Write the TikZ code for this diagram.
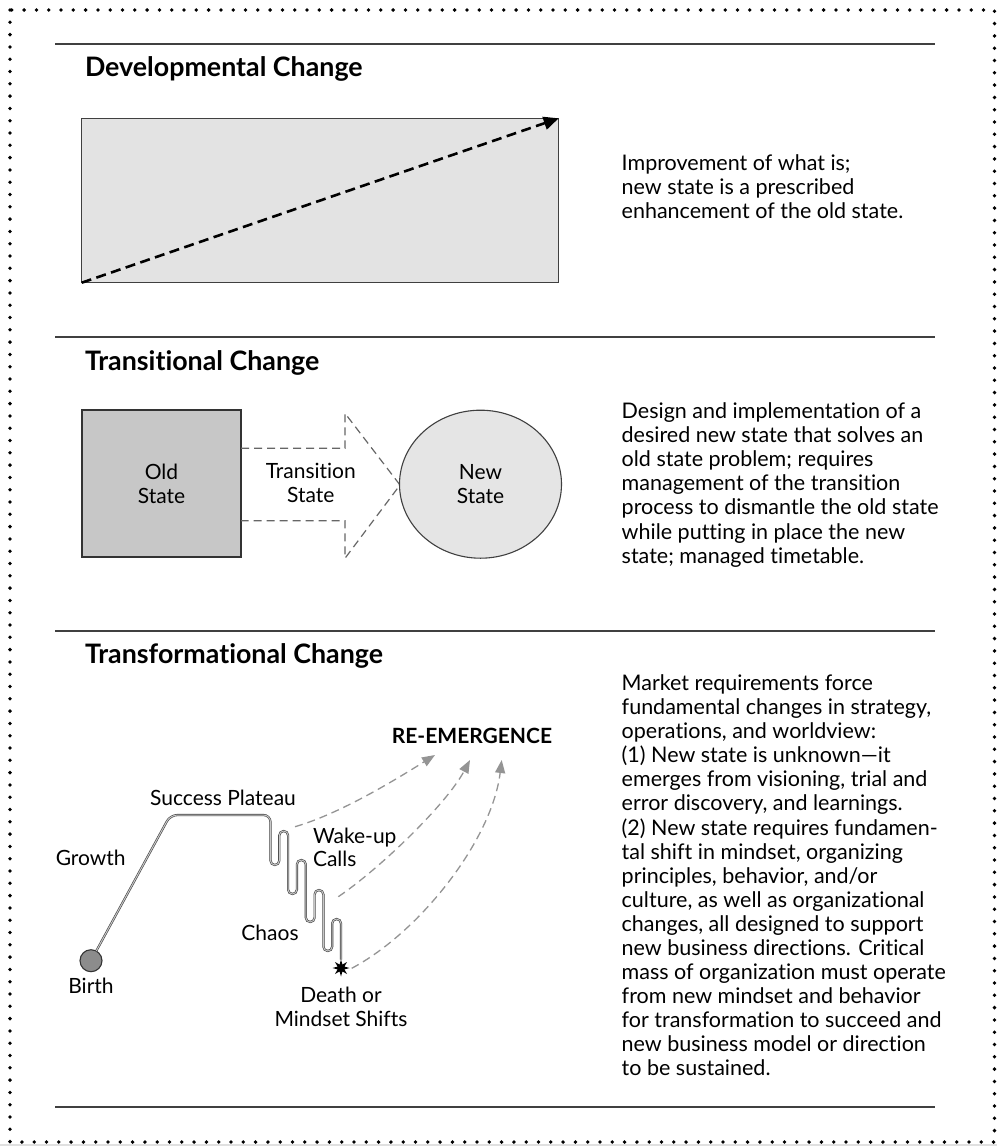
\documentclass[tikz,border=0pt]{standalone}
\usepackage{fontspec}
\setmainfont{Lato}[Ligatures=NoCommon]
\usetikzlibrary{arrows.meta,shapes.geometric}
\newcommand{\lstack}[2][24.1pt]{\vtop{\baselineskip=#1\lineskiplimit=-100pt\halign{##\hfil\cr#2\crcr}}}
\newcommand{\cstack}[2][24pt]{\vtop{\baselineskip=#1\lineskiplimit=-100pt\halign{\hfil##\hfil\cr#2\crcr}}}
\begin{document}
\begin{tikzpicture}[x=1pt,y=-1pt,
  every node/.style={inner sep=0pt, outer sep=0pt, font=\fontsize{21}{24}\selectfont},
  heading/.style={anchor=base west, font=\fontsize{26.8}{30}\selectfont\bfseries},
  body/.style={anchor=base west, font=\fontsize{21.5}{24.1}\selectfont},
  rulebar/.style={draw=black!75, line width=1.2pt},
  devarrow/.style={draw=black, line width=2.6pt, dash pattern=on 10pt off 5.5pt, -{Triangle[length=15pt,width=13pt]}},
  transarrow/.style={draw=black!60, line width=1.2pt, dash pattern=on 8pt off 5pt},
  lifeline/.style={draw=black!75, line width=0.6pt, double=black!22, double distance=1pt},
  rearrow/.style={draw=black!42, line width=1.3pt, dash pattern=on 8pt off 5pt, -{Triangle[length=13pt,width=10pt]}}]
\useasboundingbox (0,0) rectangle (997,1146);
\fill[black!12] (0,1143.8) rectangle (997,1146);
\draw[line width=3.8pt, dash pattern=on 0pt off 12.3pt, line cap=round] (10,10) rectangle (994.5,1142);

% rules
\draw[rulebar] (55,44) -- (935,44);
\draw[rulebar] (55,337) -- (935,337);
\draw[rulebar] (55,631) -- (935,631);
\draw[rulebar] (55,1107) -- (935,1107);

% headings
\node[heading] (h1) at (85,76.7) {Developmental Change};
\node[heading] (h2) at (85,370) {Transitional Change};
\node[heading] (h3) at (85,663.5) {Transformational Change};

% developmental
\node[draw=black!75, line width=1.2pt, fill=black!11, minimum width=477pt, minimum height=164.4pt, anchor=north west] (devbox) at (81.7,118.3) {};
\draw[devarrow] (devbox.south west) -- (devbox.north east);
\node[body] (t1) at (621.7,170.7) {\lstack{Improvement of what is;\cr new state is a prescribed\cr enhancement of the old state.}};

% transitional
\node[draw=black!80, line width=1.2pt, fill=black!22, minimum width=159pt, minimum height=147pt, anchor=north west] (old) at (82,410) {\cstack{Old\cr State}};
\draw[transarrow] (241,448.3) -- (345,448.3) -- (345,413.3) -- (400,485) -- (345,558.3) -- (345,520.7) -- (241,520.7);
\node[anchor=base] (trans) at (310.8,478.3) {\cstack{Transition\cr State}};
\node[ellipse, draw=black!75, line width=1.1pt, fill=black!10, minimum width=162pt, minimum height=148pt] (new) at (480.5,484.2) {\cstack{New\cr State}};
\node[body] (t2) at (621.7,418.5) {\lstack{Design and implementation of a\cr desired new state that solves an\cr old state problem; requires\cr management of the transition\cr process to dismantle the old state\cr while putting in place the new\cr state; managed timetable.}};

% transformational
\node[circle, draw=black!80, line width=1.1pt, fill=black!45, minimum size=22pt] (birth) at (91,960.7) {};
\node[star, star points=8, star point ratio=2.3, fill=black, minimum size=17pt] (death) at (341,968) {};
\draw[lifeline] (birth) [rounded corners=7pt] -- (170.3,815) -- (270.5,815) [rounded corners=4.4pt] -- (270.5,865) -- (279.3,865) -- (279.3,831) -- (288.1,831) -- (288.1,894) -- (296.9,894) -- (296.9,860) -- (305.8,860) -- (305.8,922) -- (314.6,922) -- (314.6,890) -- (323.4,890) -- (323.4,951) -- (332.2,951) -- (332.2,919) -- (341,919) -- (death);

\coordinate (a1s) at (295,826.7); \coordinate (a1e) at (435,755);
\coordinate (a2s) at (338.3,896.7); \coordinate (a2e) at (470,760);
\coordinate (a3s) at (351.7,968.3); \coordinate (a3e) at (501.7,760);
\draw[rearrow] (a1s) .. controls (340,813.7) and (395,780) .. (a1e);
\draw[rearrow] (a2s) .. controls (379.8,868.7) and (446.5,804.1) .. (a2e);
\draw[rearrow] (a3s) .. controls (420,932) and (492,840) .. (a3e);

\node[anchor=base] (growth) at (90.7,865) {Growth};
\node[anchor=base] (birthl) at (91,993.3) {Birth};
\node[anchor=base] (plateau) at (223,805) {Success Plateau};
\node[anchor=base west] (wake) at (313,843.3) {\lstack[23.4pt]{Wake-up\cr Calls}};
\node[anchor=base] (chaos) at (270,940) {Chaos};
\node[anchor=base] (deathl) at (341,1002) {\cstack{Death or\cr Mindset Shifts}};
\node[anchor=base, font=\fontsize{21}{24}\selectfont\bfseries] (reem) at (472,743.3) {RE-EMERGENCE};

\node[body] (t3) at (621.7,690.7) {\lstack[24.05pt]{Market requirements force\cr fundamental changes in strategy,\cr operations, and worldview:\cr (1) New state is unknown—it\cr emerges from visioning, trial and\cr error discovery, and learnings.\cr (2) New state requires fundamen-\cr tal shift in mindset, organizing\cr principles, behavior, and/or\cr culture, as well as organizational\cr changes, all designed to support\cr new business directions. Critical\cr mass of organization must operate\cr from new mindset and behavior\cr for transformation to succeed and\cr new business model or direction\cr to be sustained.}};
\end{tikzpicture}
\end{document}
